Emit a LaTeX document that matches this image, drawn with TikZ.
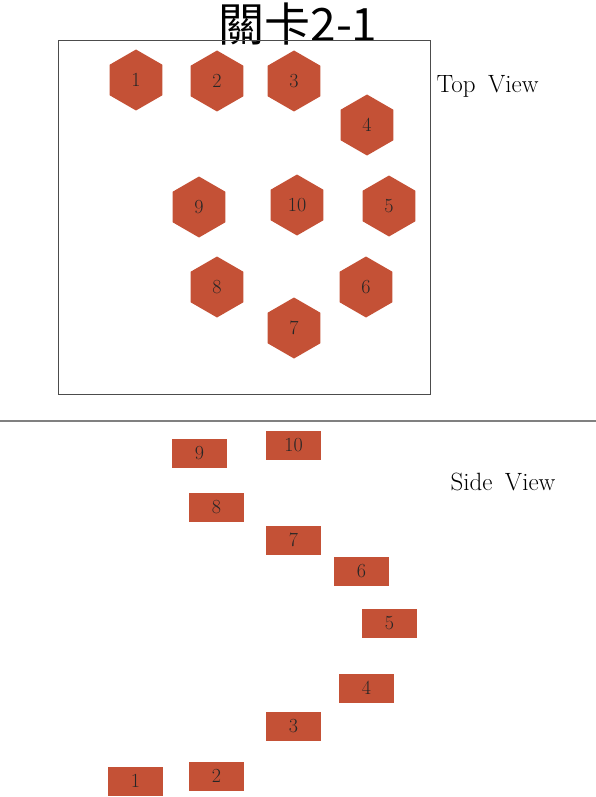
\documentclass[tikz,border=0pt]{standalone}
\usepackage{fontspec}
\newfontfamily\cjkfont{Noto Sans CJK TC}
\usetikzlibrary{shapes.geometric}
\definecolor{brick}{RGB}{196,81,54}
\begin{document}
\begin{tikzpicture}[x=1pt,y=-1pt,
    hexblock/.style={regular polygon,regular polygon sides=6,regular polygon rotate=30,
      minimum size=61pt,inner sep=0pt,fill=brick,text=black!85,font=\fontsize{20}{20}\selectfont},
    sideblock/.style={rectangle,minimum width=55pt,minimum height=29pt,inner sep=0pt,
      fill=brick,text=black!85,font=\fontsize{20}{20}\selectfont},
    viewlabel/.style={anchor=west,font=\fontsize{25}{25}\selectfont}]
  \useasboundingbox (0,0) rectangle (596,797);
  \node (title) at (298,24) {\cjkfont\fontsize{46}{46}\selectfont 關卡2-1};
  % top view
  \draw[black!70,line width=1pt] (58,41) rectangle (430,394);
  \node[viewlabel] (topview) at (433,86) {Top\hspace{0.5em}View};
  \node[hexblock] (t1) at (136,80) {1};
  \node[hexblock] (t2) at (217,81) {2};
  \node[hexblock] (t3) at (294,81) {3};
  \node[hexblock] (t4) at (367,125) {4};
  \node[hexblock] (t5) at (389,206) {5};
  \node[hexblock] (t6) at (366,287) {6};
  \node[hexblock] (t7) at (294,328) {7};
  \node[hexblock] (t8) at (217,287) {8};
  \node[hexblock] (t9) at (199,207) {9};
  \node[hexblock] (t10) at (297,205) {10};
  % side view
  \draw[black!50,line width=1.5pt] (0,421) -- (596,421);
  \node[viewlabel] (sideview) at (447,482) {Side\hspace{0.5em}View};
  \node[sideblock] (s9) at (199.5,453) {9};
  \node[sideblock] (s10) at (293.5,445) {10};
  \node[sideblock] (s8) at (216.5,507) {8};
  \node[sideblock] (s7) at (293.5,540) {7};
  \node[sideblock] (s6) at (361.5,571) {6};
  \node[sideblock] (s5) at (389.5,623) {5};
  \node[sideblock] (s4) at (366.5,688) {4};
  \node[sideblock] (s3) at (293.5,726) {3};
  \node[sideblock] (s2) at (216.5,776) {2};
  \node[sideblock] (s1) at (135.5,781) {1};
\end{tikzpicture}
\end{document}
